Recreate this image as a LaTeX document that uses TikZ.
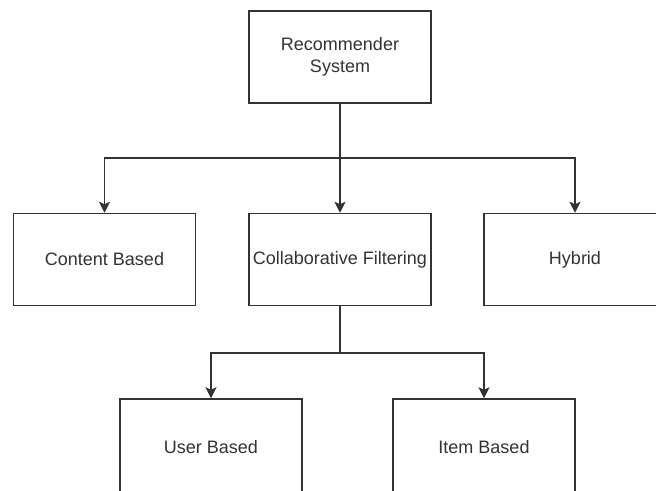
\documentclass[tikz,border=0pt]{standalone}
\usepackage{fontspec}
\setmainfont{Liberation Sans}
\usetikzlibrary{arrows.meta}
\definecolor{ink}{HTML}{333333}
\tikzset{
  block/.style={draw=ink, line width=1.5pt, fill=white, minimum width=182pt,
    minimum height=92pt, inner sep=0pt, align=center, text=ink,
    font=\fontsize{18}{22}\selectfont},
  tallblock/.style={block, minimum height=96pt},
  link/.style={draw=ink, line width=1.5pt},
  arr/.style={link, -{Stealth[length=11pt,width=11pt,inset=2.5pt]}}
}
\begin{document}
\begin{tikzpicture}[x=1pt,y=-1pt]
  \useasboundingbox (0,0) rectangle (656,490);
  \clip (0,0) rectangle (656,490);
  \fill[white] (0,0) rectangle (656,490);

  % tree nodes
  \node[block] (rec) at (340,57)  {Recommender\\System};
  \node[block] (cb)  at (104.5,259.5) {Content Based};
  \node[block] (cf)  at (340,259.5) {Collaborative Filtering};
  \node[block] (hy)  at (575,259.5) {Hybrid};
  \node[tallblock] (ub) at (211,447) {User Based};
  \node[tallblock] (ib) at (484,447) {Item Based};

  % branching points
  \coordinate (j1) at (340,158);
  \coordinate (j2) at (340,353);

  % first level
  \draw[link] (rec.south) -- (j1);
  \draw[arr] (j1) -| (cb.north);
  \draw[arr] (j1) -- (cf.north);
  \draw[arr] (j1) -| (hy.north);

  % second level
  \draw[link] (cf.south) -- (j2);
  \draw[arr] (j2) -| (ub.north);
  \draw[arr] (j2) -| (ib.north);
\end{tikzpicture}
\end{document}
